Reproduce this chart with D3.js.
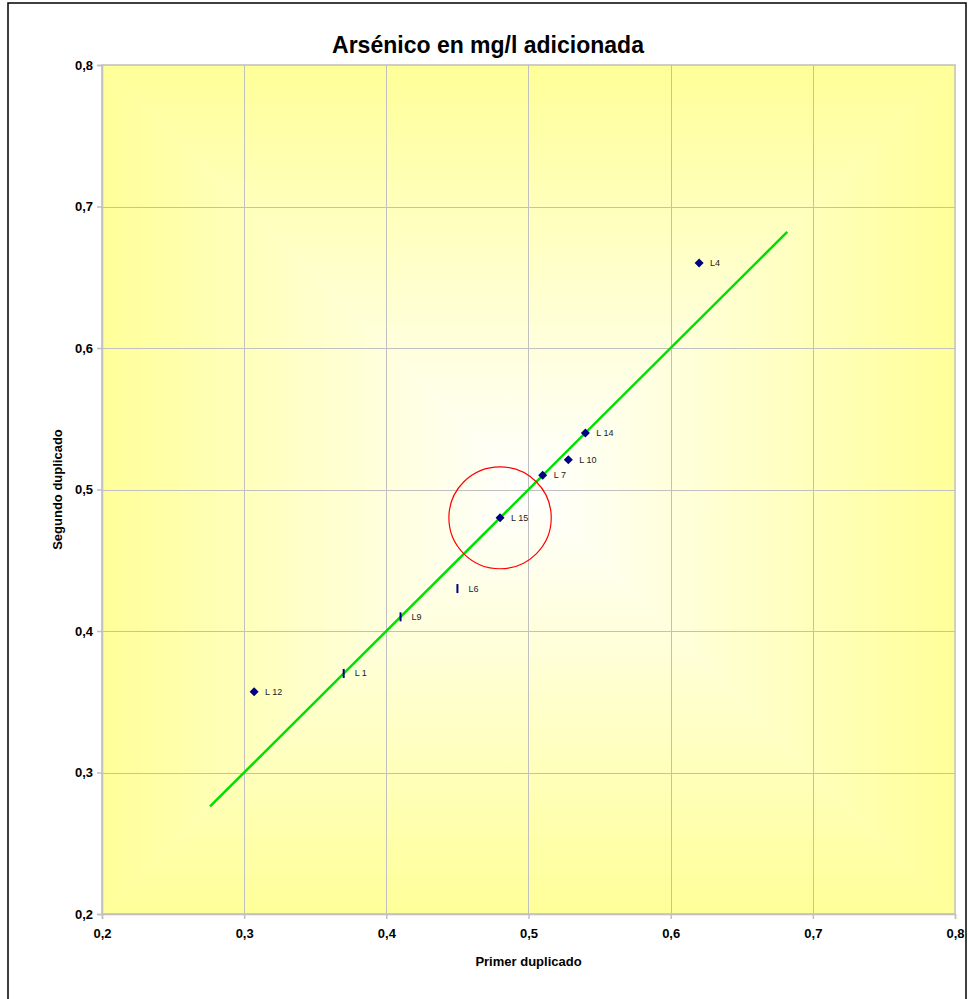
<!DOCTYPE html>
<html>
<head>
<meta charset="utf-8">
<script src="https://cdn.jsdelivr.net/npm/d3@7"></script>
<style>
  html, body { margin: 0; padding: 0; background: #ffffff; }
  svg { display: block; font-family: "Liberation Sans", Arial, sans-serif; }
</style>
</head>
<body>
<svg id="chart" width="968" height="999"></svg>
<script>
// ---------- data ----------
const chartTitle = "Arsénico en mg/l adicionada";
const xAxisTitle = "Primer duplicado";
const yAxisTitle = "Segundo duplicado";
const xTicks = [0.2, 0.3, 0.4, 0.5, 0.6, 0.7, 0.8];
const yTicks = [0.2, 0.3, 0.4, 0.5, 0.6, 0.7, 0.8];

// series drawn with diamond markers
const diamondLabels = ["L4", "L 14", "L 10", "L 7", "L 15", "L 12"];
const diamondX = [0.62, 0.54, 0.528, 0.51, 0.48, 0.307];
const diamondY = [0.66, 0.54, 0.521, 0.51, 0.48, 0.357];

// series drawn with bar markers
const barLabels = ["L6", "L9", "L 1"];
const barX = [0.45, 0.41, 0.37];
const barY = [0.43, 0.41, 0.37];

// reference line y = x
const fitX = [0.276, 0.682];
const fitY = [0.276, 0.682];

// highlight circle around L 15
const circleCenterX = 0.48;
const circleCenterY = 0.48;
const circleRadius = 0.036;

// ---------- layout ----------
const svg = d3.select("#chart");
const plot = { left: 102, top: 65, right: 955, bottom: 914 };

const x = d3.scaleLinear().domain([0.2, 0.8]).range([plot.left, plot.right]);
const y = d3.scaleLinear().domain([0.2, 0.8]).range([plot.bottom, plot.top]);
const fmt = v => d3.format(".1f")(v).replace(".", ",");

// outer chart border
svg.append("rect")
  .attr("x", 8).attr("y", 3).attr("width", 958).attr("height", 1010)
  .attr("fill", "#ffffff").attr("stroke", "#000000").attr("stroke-width", 1.5);

// plot background: "from center" rectangular gradient made of 4 triangles
const defs = svg.append("defs");
const cx = (plot.left + plot.right) / 2, cy = (plot.top + plot.bottom) / 2;
const edge = "#ffff99", center = "#ffffff";
const tris = [
  { id: "gT", pts: [[plot.left, plot.top], [plot.right, plot.top], [cx, cy]], x1: 0, y1: 1, x2: 0, y2: 0 },
  { id: "gB", pts: [[plot.left, plot.bottom], [plot.right, plot.bottom], [cx, cy]], x1: 0, y1: 0, x2: 0, y2: 1 },
  { id: "gL", pts: [[plot.left, plot.top], [plot.left, plot.bottom], [cx, cy]], x1: 1, y1: 0, x2: 0, y2: 0 },
  { id: "gR", pts: [[plot.right, plot.top], [plot.right, plot.bottom], [cx, cy]], x1: 0, y1: 0, x2: 1, y2: 0 }
];
tris.forEach(t => {
  const g = defs.append("linearGradient").attr("id", t.id)
    .attr("x1", t.x1).attr("y1", t.y1).attr("x2", t.x2).attr("y2", t.y2);
  g.append("stop").attr("offset", "0%").attr("stop-color", center);
  g.append("stop").attr("offset", "100%").attr("stop-color", edge);
  svg.append("polygon")
    .attr("points", t.pts.map(p => p.join(",")).join(" "))
    .attr("fill", `url(#${t.id})`)
    .attr("stroke", `url(#${t.id})`).attr("stroke-width", 0.6);
});

// grid lines
const grid = svg.append("g");
grid.selectAll("line.vx").data(xTicks.slice(1, -1)).join("line")
  .attr("x1", d => Math.round(x(d)) + 0.5).attr("x2", d => Math.round(x(d)) + 0.5)
  .attr("y1", plot.top).attr("y2", plot.bottom)
  .attr("stroke", "#c0c0c0").attr("stroke-width", 1);
grid.selectAll("line.hy").data(yTicks.slice(1, -1)).join("line")
  .attr("y1", d => Math.round(y(d)) + 0.5).attr("y2", d => Math.round(y(d)) + 0.5)
  .attr("x1", plot.left).attr("x2", plot.right)
  .attr("stroke", "#c0c0c0").attr("stroke-width", 1);

// plot border
svg.append("rect")
  .attr("x", plot.left).attr("y", plot.top)
  .attr("width", plot.right - plot.left).attr("height", plot.bottom - plot.top)
  .attr("fill", "none").attr("stroke", "#c0c0c0").attr("stroke-width", 1.5);

// axes
const xAxis = svg.append("g").attr("transform", `translate(0,${plot.bottom})`)
  .call(d3.axisBottom(x).tickValues(xTicks).tickFormat(fmt).tickSize(5).tickPadding(10));
const yAxis = svg.append("g").attr("transform", `translate(${plot.left},0)`)
  .call(d3.axisLeft(y).tickValues(yTicks).tickFormat(fmt).tickSize(5).tickPadding(4));
[xAxis, yAxis].forEach(a => {
  a.select(".domain").attr("stroke", "#c0c0c0").attr("stroke-width", 1.5);
  a.selectAll(".tick line").attr("stroke", "#c0c0c0").attr("stroke-width", 1.5);
  a.selectAll(".tick text")
    .attr("fill", "#000").style("font-size", "13px").style("font-weight", "bold")
    .style("font-family", "'Liberation Sans', Arial, sans-serif");
});
xAxis.selectAll(".tick text").attr("dy", "0.71em");

// green reference line
svg.append("path")
  .datum(fitX.map((v, i) => [v, fitY[i]]))
  .attr("d", d3.line().x(d => x(d[0])).y(d => y(d[1])))
  .attr("fill", "none").attr("stroke", "#00e000").attr("stroke-width", 2.5);

// red circle
svg.append("ellipse")
  .attr("cx", x(circleCenterX)).attr("cy", y(circleCenterY))
  .attr("rx", x(circleCenterX + circleRadius) - x(circleCenterX))
  .attr("ry", y(circleCenterY) - y(circleCenterY + circleRadius))
  .attr("fill", "none").attr("stroke", "#ff0000").attr("stroke-width", 1.2);

// diamond markers
const diamonds = diamondX.map((v, i) => ({ x: v, y: diamondY[i], label: diamondLabels[i] }));
const bars = barX.map((v, i) => ({ x: v, y: barY[i], label: barLabels[i] }));

svg.append("g").selectAll("path").data(diamonds).join("path")
  .attr("transform", d => `translate(${x(d.x)},${y(d.y)})`)
  .attr("d", "M0,-4.5L4.5,0L0,4.5L-4.5,0Z")
  .attr("fill", "#000080");

svg.append("g").selectAll("rect").data(bars).join("rect")
  .attr("x", d => x(d.x) - 1).attr("y", d => y(d.y) - 4.5)
  .attr("width", 2).attr("height", 9)
  .attr("fill", "#000080");

// point labels
svg.append("g").selectAll("text").data(diamonds.concat(bars)).join("text")
  .attr("x", d => x(d.x) + 11).attr("y", d => y(d.y) + 3)
  .attr("fill", "#222").style("font-size", "9px")
  .text(d => d.label);

// titles
svg.append("text")
  .attr("x", 488).attr("y", 53).attr("text-anchor", "middle")
  .style("font-size", "23px").style("font-weight", "bold")
  .text(chartTitle);

svg.append("text")
  .attr("x", (plot.left + plot.right) / 2).attr("y", 966).attr("text-anchor", "middle")
  .style("font-size", "13px").style("font-weight", "bold")
  .text(xAxisTitle);

svg.append("text")
  .attr("transform", `translate(62,${(plot.top + plot.bottom) / 2}) rotate(-90)`)
  .attr("text-anchor", "middle")
  .style("font-size", "13px").style("font-weight", "bold")
  .text(yAxisTitle);
</script>
</body>
</html>
